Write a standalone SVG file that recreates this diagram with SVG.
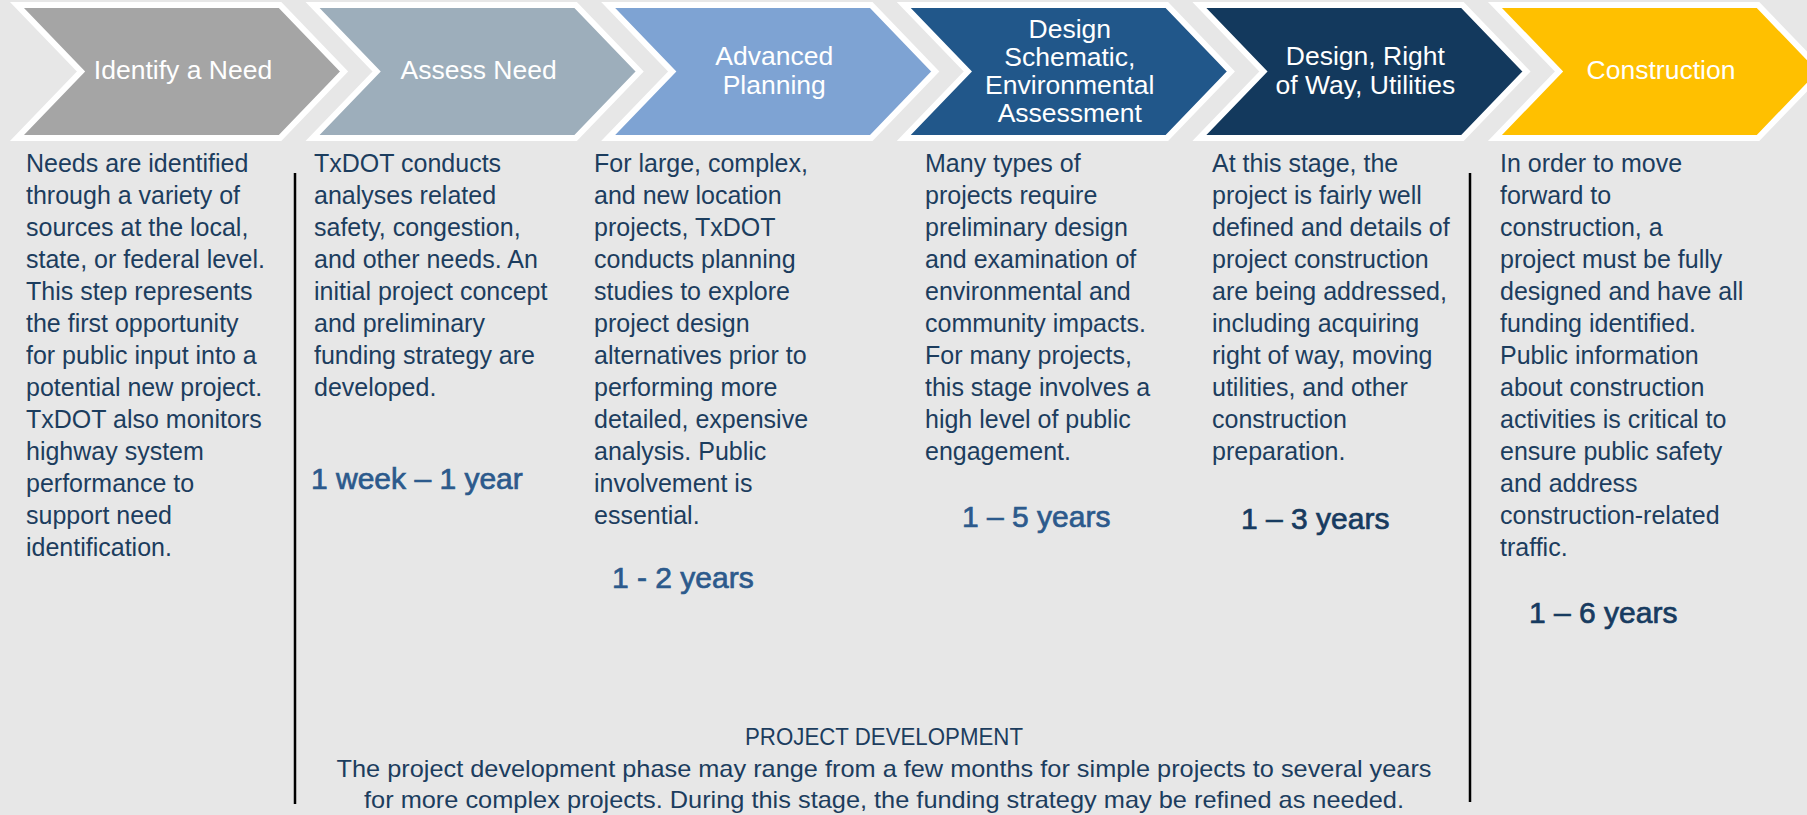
<svg xmlns="http://www.w3.org/2000/svg" width="1807" height="815" viewBox="0 0 1807 815">
  <style>
    .chev { stroke: #FFFFFF; stroke-width: 6; stroke-linejoin: miter; }
    .ct { font-family: "Liberation Sans", Arial, sans-serif; font-size: 26.5px; fill: #FFFFFF; text-anchor: middle; }
    .body { font-family: "Liberation Sans", Arial, sans-serif; font-size: 25px; fill: #1C3D5E; }
    .dur { font-family: "Liberation Sans", Arial, sans-serif; font-size: 30px; stroke-width: 0.7; }
    .durA { fill: #2C5A8C; stroke: #2C5A8C; }
    .durB { fill: #173B60; stroke: #173B60; }
    .foot { font-family: "Liberation Sans", Arial, sans-serif; font-size: 24px; fill: #1C3D5E; text-anchor: middle; }
    .div { stroke: #000000; stroke-width: 2.5; }
  </style>
  <rect x="0" y="0" width="1807" height="815" fill="#E7E7E7"/>

  <g id="identify-need">
    <path class="chev" fill="#A5A5A5" d="M17,5 L280,5 L344,71.5 L280,138 L17,138 L81,71.5 Z"/>
    <text class="ct" x="183" y="79">Identify a Need</text>
  </g>
  <g id="assess-need">
    <path class="chev" fill="#9DAEBB" d="M312.6,5 L575.6,5 L639.6,71.5 L575.6,138 L312.6,138 L376.6,71.5 Z"/>
    <text class="ct" x="478.6" y="79">Assess Need</text>
  </g>
  <g id="advanced-planning">
    <path class="chev" fill="#7EA3D3" d="M608.2,5 L871.2,5 L935.2,71.5 L871.2,138 L608.2,138 L672.2,71.5 Z"/>
    <text class="ct" x="774.2" y="65">Advanced</text>
    <text class="ct" x="774.2" y="94">Planning</text>
  </g>
  <g id="design-schematic">
    <path class="chev" fill="#21578A" d="M903.8,5 L1166.8,5 L1230.8,71.5 L1166.8,138 L903.8,138 L967.8,71.5 Z"/>
    <text class="ct" x="1069.8" y="38">Design</text>
    <text class="ct" x="1069.8" y="66">Schematic,</text>
    <text class="ct" x="1069.8" y="94">Environmental</text>
    <text class="ct" x="1069.8" y="122">Assessment</text>
  </g>
  <g id="design-row-utilities">
    <path class="chev" fill="#13395D" d="M1199.4,5 L1462.4,5 L1526.4,71.5 L1462.4,138 L1199.4,138 L1263.4,71.5 Z"/>
    <text class="ct" x="1365.4" y="65">Design, Right</text>
    <text class="ct" x="1365.4" y="94">of Way, Utilities</text>
  </g>
  <g id="construction">
    <path class="chev" fill="#FFC000" d="M1495,5 L1758,5 L1822,71.5 L1758,138 L1495,138 L1559,71.5 Z"/>
    <text class="ct" x="1661" y="79">Construction</text>
  </g>

  <g id="desc-identify">
    <text class="body" x="26" y="172">Needs are identified</text>
    <text class="body" x="26" y="204">through a variety of</text>
    <text class="body" x="26" y="236">sources at the local,</text>
    <text class="body" x="26" y="268">state, or federal level.</text>
    <text class="body" x="26" y="300">This step represents</text>
    <text class="body" x="26" y="332">the first opportunity</text>
    <text class="body" x="26" y="364">for public input into a</text>
    <text class="body" x="26" y="396">potential new project.</text>
    <text class="body" x="26" y="428">TxDOT also monitors</text>
    <text class="body" x="26" y="460">highway system</text>
    <text class="body" x="26" y="492">performance to</text>
    <text class="body" x="26" y="524">support need</text>
    <text class="body" x="26" y="556">identification.</text>
  </g>
  <g id="desc-assess">
    <text class="body" x="314" y="172">TxDOT conducts</text>
    <text class="body" x="314" y="204">analyses related</text>
    <text class="body" x="314" y="236">safety, congestion,</text>
    <text class="body" x="314" y="268">and other needs. An</text>
    <text class="body" x="314" y="300">initial project concept</text>
    <text class="body" x="314" y="332">and preliminary</text>
    <text class="body" x="314" y="364">funding strategy are</text>
    <text class="body" x="314" y="396">developed.</text>
    <text class="dur durA" x="311" y="489">1 week – 1 year</text>
  </g>
  <g id="desc-advanced">
    <text class="body" x="594" y="172">For large, complex,</text>
    <text class="body" x="594" y="204">and new location</text>
    <text class="body" x="594" y="236">projects, TxDOT</text>
    <text class="body" x="594" y="268">conducts planning</text>
    <text class="body" x="594" y="300">studies to explore</text>
    <text class="body" x="594" y="332">project design</text>
    <text class="body" x="594" y="364">alternatives prior to</text>
    <text class="body" x="594" y="396">performing more</text>
    <text class="body" x="594" y="428">detailed, expensive</text>
    <text class="body" x="594" y="460">analysis. Public</text>
    <text class="body" x="594" y="492">involvement is</text>
    <text class="body" x="594" y="524">essential.</text>
    <text class="dur durA" x="612" y="588">1 - 2 years</text>
  </g>
  <g id="desc-schematic">
    <text class="body" x="925" y="172">Many types of</text>
    <text class="body" x="925" y="204">projects require</text>
    <text class="body" x="925" y="236">preliminary design</text>
    <text class="body" x="925" y="268">and examination of</text>
    <text class="body" x="925" y="300">environmental and</text>
    <text class="body" x="925" y="332">community impacts.</text>
    <text class="body" x="925" y="364">For many projects,</text>
    <text class="body" x="925" y="396">this stage involves a</text>
    <text class="body" x="925" y="428">high level of public</text>
    <text class="body" x="925" y="460">engagement.</text>
    <text class="dur durA" x="962" y="527">1 – 5 years</text>
  </g>
  <g id="desc-row">
    <text class="body" x="1212" y="172">At this stage, the</text>
    <text class="body" x="1212" y="204">project is fairly well</text>
    <text class="body" x="1212" y="236">defined and details of</text>
    <text class="body" x="1212" y="268">project construction</text>
    <text class="body" x="1212" y="300">are being addressed,</text>
    <text class="body" x="1212" y="332">including acquiring</text>
    <text class="body" x="1212" y="364">right of way, moving</text>
    <text class="body" x="1212" y="396">utilities, and other</text>
    <text class="body" x="1212" y="428">construction</text>
    <text class="body" x="1212" y="460">preparation.</text>
    <text class="dur durB" x="1241" y="529">1 – 3 years</text>
  </g>
  <g id="desc-construction">
    <text class="body" x="1500" y="172">In order to move</text>
    <text class="body" x="1500" y="204">forward to</text>
    <text class="body" x="1500" y="236">construction, a</text>
    <text class="body" x="1500" y="268">project must be fully</text>
    <text class="body" x="1500" y="300">designed and have all</text>
    <text class="body" x="1500" y="332">funding identified.</text>
    <text class="body" x="1500" y="364">Public information</text>
    <text class="body" x="1500" y="396">about construction</text>
    <text class="body" x="1500" y="428">activities is critical to</text>
    <text class="body" x="1500" y="460">ensure public safety</text>
    <text class="body" x="1500" y="492">and address</text>
    <text class="body" x="1500" y="524">construction-related</text>
    <text class="body" x="1500" y="556">traffic.</text>
    <text class="dur durB" x="1529" y="623">1 – 6 years</text>
  </g>

  <g id="dividers">
    <line class="div" x1="295" y1="173" x2="295" y2="804"/>
    <line class="div" x1="1470" y1="173" x2="1470" y2="802"/>
  </g>

  <g id="project-development">
    <text class="foot" x="884" y="745" textLength="278" lengthAdjust="spacingAndGlyphs">PROJECT DEVELOPMENT</text>
    <text class="foot" x="884" y="777" textLength="1095" lengthAdjust="spacingAndGlyphs">The project development phase may range from a few months for simple projects to several years</text>
    <text class="foot" x="884" y="808" textLength="1040" lengthAdjust="spacingAndGlyphs">for more complex projects. During this stage, the funding strategy may be refined as needed.</text>
  </g>
</svg>
